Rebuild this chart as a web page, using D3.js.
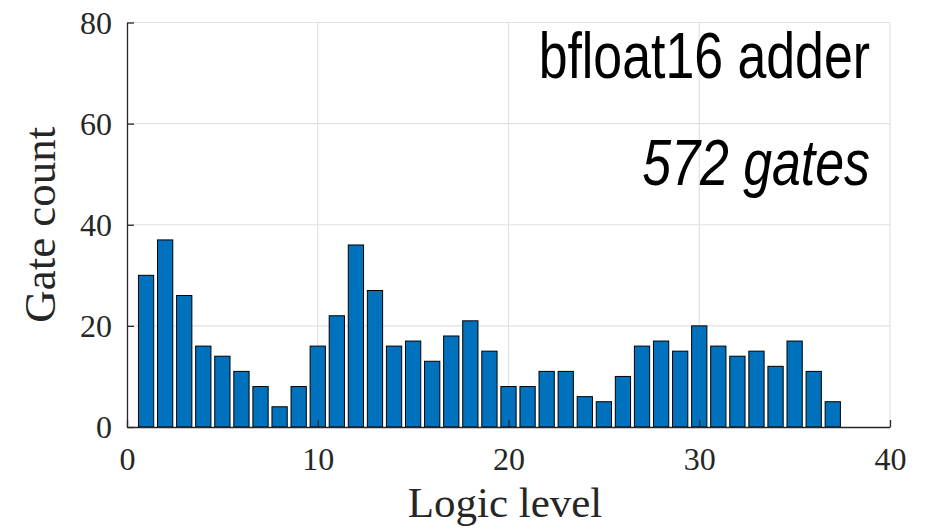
<!DOCTYPE html>
<html>
<head>
<meta charset="utf-8">
<script src="https://cdn.jsdelivr.net/npm/d3@7"></script>
<style>
  html, body { margin: 0; padding: 0; background: #fff; }
  svg { display: block; }
</style>
</head>
<body>
<svg id="chart" width="934" height="530"></svg>
<script>
// Gate count per logic level for the bfloat16 adder
const levels = d3.range(1, 38);
const gateCounts = [30, 37, 26, 16, 14, 11, 8, 4, 8, 16, 22, 36, 27, 16, 17, 13, 18, 21, 15, 8,
                    8, 11, 11, 6, 5, 10, 16, 17, 15, 20, 16, 14, 15, 12, 17, 11, 5];
const xTicks = [0, 10, 20, 30, 40];
const yTicks = [0, 20, 40, 60, 80];
const titleLines = ["bfloat16 adder", "572 gates"];
const xLabel = "Logic level";
const yLabel = "Gate count";

const svg = d3.select("#chart");
const margin = { left: 127, right: 44, top: 22.5, bottom: 103 };
const W = 934, H = 530;
const x0 = margin.left, x1 = W - margin.right;
const y0 = H - margin.bottom, y1 = margin.top;

const x = d3.scaleLinear().domain([0, 40]).range([x0, x1]);
const y = d3.scaleLinear().domain([0, 80]).range([y0, y1]);

const serif = "'Liberation Serif', 'DejaVu Serif', serif";
const axisColor = "#262626";
const gridColor = "#e1e1e1";

// grid
const grid = svg.append("g");
grid.selectAll("line.gx").data(xTicks.filter(d => d > 0)).join("line")
  .attr("x1", d => x(d)).attr("x2", d => x(d))
  .attr("y1", y0).attr("y2", y1)
  .attr("stroke", gridColor).attr("stroke-width", 1.2);
grid.selectAll("line.gy").data(yTicks.filter(d => d > 0)).join("line")
  .attr("x1", x0).attr("x2", x1)
  .attr("y1", d => y(d)).attr("y2", d => y(d))
  .attr("stroke", gridColor).attr("stroke-width", 1.2);

// bars
const barW = (x(1) - x(0)) * 0.8;
svg.append("g").selectAll("rect").data(levels).join("rect")
  .attr("x", (d) => x(d) - barW / 2)
  .attr("width", barW)
  .attr("y", (d, i) => y(gateCounts[i]))
  .attr("height", (d, i) => y(0) - y(gateCounts[i]))
  .attr("fill", "#0072BD")
  .attr("stroke", "#000")
  .attr("stroke-width", 1);

// axes with inward ticks
const xAxis = d3.axisBottom(x).tickValues(xTicks).tickSizeInner(-7).tickSizeOuter(0).tickPadding(0);
const yAxis = d3.axisLeft(y).tickValues(yTicks).tickSizeInner(-7).tickSizeOuter(0).tickPadding(0);

const gx = svg.append("g").attr("transform", `translate(0,${y0})`).call(xAxis);
gx.select(".domain").attr("stroke", axisColor).attr("stroke-width", 1.3);
gx.selectAll(".tick line").attr("stroke", axisColor).attr("stroke-width", 1.3);
gx.selectAll(".tick text")
  .attr("y", 43).attr("dy", null)
  .attr("font-family", serif).attr("font-size", 32).attr("fill", axisColor);

const gy = svg.append("g").attr("transform", `translate(${x0},0)`).call(yAxis);
gy.select(".domain").attr("stroke", axisColor).attr("stroke-width", 1.3);
gy.selectAll(".tick line").attr("stroke", axisColor).attr("stroke-width", 1.3);
gy.selectAll(".tick text")
  .attr("x", -15).attr("dy", "0.34em")
  .attr("font-family", serif).attr("font-size", 32).attr("fill", axisColor);

// axis titles
svg.append("text")
  .attr("x", 505).attr("y", 517)
  .attr("text-anchor", "middle")
  .attr("font-family", serif).attr("font-size", 43).attr("fill", axisColor)
  .text(xLabel);

svg.append("text")
  .attr("transform", `translate(55,${(y0 + y1) / 2}) rotate(-90)`)
  .attr("text-anchor", "middle")
  .attr("font-family", serif).attr("font-size", 45).attr("fill", axisColor)
  .text(yLabel);

// annotation in the upper right corner
const ann = [
  { text: titleLines[0], y: 78, style: "normal" },
  { text: titleLines[1], y: 185, style: "italic" }
];
ann.forEach(a => {
  svg.append("g")
    .attr("transform", `translate(870,${a.y}) scale(0.81,1)`)
    .append("text")
    .attr("text-anchor", "end")
    .attr("font-family", "'Liberation Sans', Arial, sans-serif")
    .attr("font-size", 64)
    .attr("font-style", a.style)
    .attr("fill", "#000")
    .text(a.text);
});
</script>
</body>
</html>
